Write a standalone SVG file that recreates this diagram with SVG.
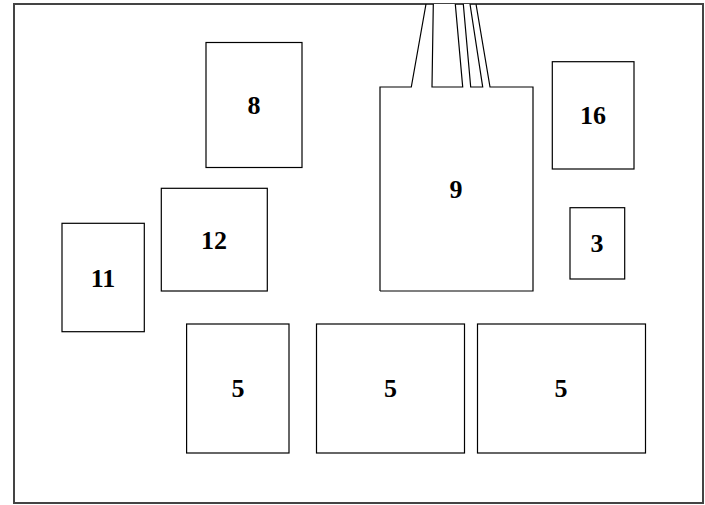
<svg xmlns="http://www.w3.org/2000/svg" width="705" height="505" viewBox="0 0 705 505">
<style>
.box{fill:#fff;stroke:#000;stroke-width:1.2}
.lbl{font-family:"Liberation Serif","DejaVu Serif",serif;font-weight:bold;font-size:26px;text-anchor:middle;fill:#000}
</style>
<rect x="0" y="0" width="705" height="505" fill="#fff"/>
<rect id="frame" x="14" y="4" width="689" height="499" fill="none" stroke="#444" stroke-width="2"/>
<g id="n8"><rect class="box" x="206" y="42.5" width="96" height="125"/><text class="lbl" x="254" y="114">8</text></g>
<g id="n9"><path class="box" d="M380,291 L380,87 L411.3,87 L426,4 M433.3,4 L432,87 L462.7,87 L455.3,4 M463.3,4 L470.7,87 L482.7,87 L470,4 M476,4 L490,87 L533,87 L533,291 L380,291"/><path d="M380,291 L380,87 L533,87 L533,291 Z" fill="none"/><text class="lbl" x="456" y="198">9</text></g>
<g id="n16"><rect class="box" x="552.3" y="61.7" width="81.7" height="107.3"/><text class="lbl" x="593" y="124">16</text></g>
<g id="n3"><rect class="box" x="570" y="207.7" width="54.7" height="71.3"/><text class="lbl" x="597" y="252">3</text></g>
<g id="n12"><rect class="box" x="161.3" y="188.3" width="106" height="102.7"/><text class="lbl" x="214" y="249">12</text></g>
<g id="n11"><rect class="box" x="62" y="223.3" width="82.3" height="108.4"/><text class="lbl" x="103" y="287">11</text></g>
<g id="n5a"><rect class="box" x="186.6" y="324" width="102.4" height="129"/><text class="lbl" x="238" y="397">5</text></g>
<g id="n5b"><rect class="box" x="316.5" y="324" width="148" height="129"/><text class="lbl" x="390.5" y="397">5</text></g>
<g id="n5c"><rect class="box" x="477.5" y="324" width="168" height="129"/><text class="lbl" x="561" y="397">5</text></g>
</svg>
